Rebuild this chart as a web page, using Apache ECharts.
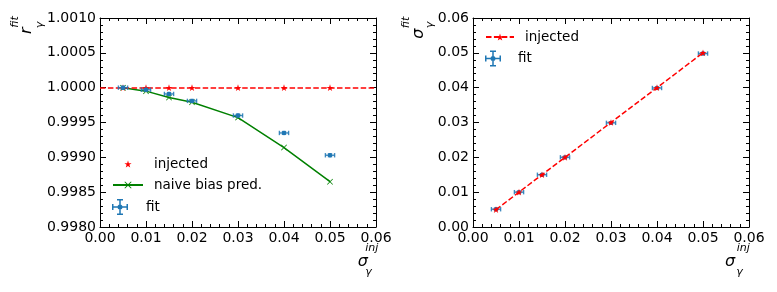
<!DOCTYPE html>
<html>
<head>
<meta charset="utf-8">
<script src="https://cdn.jsdelivr.net/npm/echarts@6/dist/echarts.min.js"></script>
<style>html,body{margin:0;padding:0;background:#fff;}#c{width:777px;height:292px;}</style>
</head>
<body>
<div id="c"></div>
<script>
// ---------------- data ----------------
const sigmaInj = [0.005, 0.01, 0.015, 0.02, 0.03, 0.04, 0.05];
// left panel: r_gamma
const rInjected = [1.0, 1.0, 1.0, 1.0, 1.0, 1.0, 1.0];
const rNaive = [1.00000, 0.99995, 0.99986, 0.99979, 0.99957, 0.99914, 0.99865];
const rFit = [1.00000, 0.99997, 0.99991, 0.99981, 0.99960, 0.99935, 0.99903];
const rFitErrX = [0.001, 0.001, 0.001, 0.001, 0.001, 0.001, 0.001];
const rFitErrY = [0.00002, 0.00002, 0.00002, 0.00002, 0.00002, 0.00002, 0.00002];
const rReference = 1.0;
// right panel: sigma_gamma
const sigmaInjected = [0.005, 0.01, 0.015, 0.02, 0.03, 0.04, 0.05];
const sigmaFit = [0.0051, 0.0100, 0.0150, 0.0200, 0.0299, 0.0399, 0.0498];
const sigmaFitErrX = [0.001, 0.001, 0.001, 0.001, 0.001, 0.001, 0.001];
const sigmaFitErrY = [0.0003, 0.0003, 0.0003, 0.0003, 0.0003, 0.0003, 0.0003];
// axis ranges [min, max, interval]
const xRange = [0.0, 0.06, 0.01];
const rRange = [0.998, 1.001, 0.0005];
const sRange = [0.0, 0.06, 0.01];
const legendLabels = {inj: 'injected', naive: 'naive bias pred.', fit: 'fit'};

// ---------------- styling helpers ----------------
const FONT = '"DejaVu Sans", sans-serif';
const BLUE = '#1f77b4', RED = '#ff0000', GREEN = '#008000';

function starPath() {
  let p = '';
  for (let i = 0; i < 10; i++) {
    const r = i % 2 ? 0.382 : 1;
    const a = -Math.PI / 2 + i * Math.PI / 5;
    p += (i ? 'L' : 'M') + (50 + 50 * r * Math.cos(a)).toFixed(2) + ',' + (50 + 50 * r * Math.sin(a)).toFixed(2);
  }
  return 'path://' + p + 'Z';
}
const STAR = starPath();
const XMARK = 'path://M0,1.4L1.4,0L8,6.6L14.6,0L16,1.4L9.4,8L16,14.6L14.6,16L8,9.4L1.4,16L0,14.6L6.6,8Z';
const ERRICON = 'path://M1,14.5H31V17.5H1Z M14.5,1H17.5V31H14.5Z M0,10H3V22H0Z M29,10H32V22H29Z M10,0H22V3H10Z M10,29H22V32H10Z M11,16A5,5 0 1,1 21,16A5,5 0 1,1 11,16Z';

function axisCommon(range, pos, labels, fmt) {
  return {
    type: 'value', position: pos, min: range[0], max: range[1], interval: range[2],
    axisLine: {show: true, onZero: false, lineStyle: {color: '#000', width: 1}},
    axisTick: {show: true, inside: true, length: 6, lineStyle: {color: '#000', width: 1}},
    minorTick: {show: true, splitNumber: 5, length: 3, lineStyle: {color: '#000', width: 1}},
    splitLine: {show: false},
    axisLabel: {show: labels, color: '#000', fontFamily: FONT, fontSize: 14, margin: 4,
      formatter: v => v.toFixed(fmt)},
  };
}

function errRender(params, api) {
  const x = api.value(0), y = api.value(1), xe = api.value(2), ye = api.value(3);
  const c = api.coord([x, y]);
  const l = api.coord([x - xe, y]), r = api.coord([x + xe, y]);
  const b = api.coord([x, y - ye]), t = api.coord([x, y + ye]);
  const cap = 2.2;
  const st = {stroke: BLUE, lineWidth: 1.4, opacity: 0.85};
  return {type: 'group', children: [
    {type: 'line', shape: {x1: l[0], y1: l[1], x2: r[0], y2: r[1]}, style: st},
    {type: 'line', shape: {x1: l[0], y1: l[1] - cap, x2: l[0], y2: l[1] + cap}, style: st},
    {type: 'line', shape: {x1: r[0], y1: r[1] - cap, x2: r[0], y2: r[1] + cap}, style: st},
    {type: 'line', shape: {x1: b[0], y1: b[1], x2: t[0], y2: t[1]}, style: st},
    {type: 'line', shape: {x1: b[0] - cap, y1: b[1], x2: b[0] + cap, y2: b[1]}, style: st},
    {type: 'line', shape: {x1: t[0] - cap, y1: t[1], x2: t[0] + cap, y2: t[1]}, style: st},
    {type: 'circle', shape: {cx: c[0], cy: c[1], r: 2.2}, style: {fill: BLUE}}
  ]};
}

function txt(text, x, y, size, rot) {
  return {type: 'text', x: x, y: y, rotation: rot ? Math.PI / 2 : 0, silent: true,
    style: {text: text, fontFamily: FONT, fontStyle: 'italic', fontSize: size, fill: '#000',
      align: 'center', verticalAlign: 'middle'}};
}

const pairs = (xs, ys) => xs.map((x, i) => [x, ys[i]]);
const quads = (xs, ys, ex, ey) => xs.map((x, i) => [x, ys[i], ex[i], ey[i]]);

const legendText = {color: '#000', fontFamily: FONT, fontSize: 13.5, padding: [0, 0, 0, 6]};
const fmtLegend = name => legendLabels[name.split('_')[0]];

const option = {
  animation: false,
  backgroundColor: '#fff',
  grid: [
    {left: 100, top: 18, width: 276, height: 209},
    {left: 473, top: 18, width: 276, height: 209}
  ],
  xAxis: [
    axisCommon(xRange, 'bottom', true, 2), axisCommon(xRange, 'top', false, 2),
    axisCommon(xRange, 'bottom', true, 2), axisCommon(xRange, 'top', false, 2)
  ].map((a, i) => Object.assign(a, {gridIndex: i < 2 ? 0 : 1})),
  yAxis: [
    axisCommon(rRange, 'left', true, 4), axisCommon(rRange, 'right', false, 4),
    axisCommon(sRange, 'left', true, 2), axisCommon(sRange, 'right', false, 2)
  ].map((a, i) => Object.assign(a, {gridIndex: i < 2 ? 0 : 1})),
  legend: [
    {orient: 'vertical', left: 112, top: 157, padding: 0, itemWidth: 30, itemHeight: 9, itemGap: 7,
      data: ['inj_L', 'naive_L'], formatter: fmtLegend, textStyle: legendText, selectedMode: false},
    {orient: 'vertical', left: 112, top: 199, padding: 0, itemWidth: 30, itemHeight: 16, itemGap: 7,
      data: [{name: 'fit_L', icon: ERRICON}], formatter: fmtLegend, textStyle: legendText, selectedMode: false},
    {orient: 'vertical', left: 485, top: 30, padding: 0, itemWidth: 28, itemHeight: 9, itemGap: 7,
      data: ['inj_R'], formatter: fmtLegend, textStyle: legendText, selectedMode: false},
    {orient: 'vertical', left: 485, top: 50.5, padding: 0, itemWidth: 28, itemHeight: 16, itemGap: 7,
      data: [{name: 'fit_R', icon: ERRICON}], formatter: fmtLegend, textStyle: legendText, selectedMode: false}
  ],
  series: [
    {name: 'inj_L', type: 'line', xAxisIndex: 0, yAxisIndex: 0, data: pairs(sigmaInj, rInjected),
      symbol: STAR, symbolSize: 7, symbolKeepAspect: true, itemStyle: {color: RED},
      lineStyle: {width: 0, opacity: 0, color: RED}, z: 3,
      markLine: {silent: true, symbol: 'none', label: {show: false},
        lineStyle: {color: RED, width: 1.5, type: [5.5, 2.4]}, data: [{yAxis: rReference}]}},
    {name: 'naive_L', type: 'line', xAxisIndex: 0, yAxisIndex: 0, data: pairs(sigmaInj, rNaive),
      symbol: XMARK, symbolSize: 6, itemStyle: {color: GREEN}, lineStyle: {color: GREEN, width: 1.5}, z: 4},
    {name: 'fit_L', type: 'custom', xAxisIndex: 0, yAxisIndex: 0, data: quads(sigmaInj, rFit, rFitErrX, rFitErrY),
      renderItem: errRender, itemStyle: {color: BLUE}, z: 5},
    {name: 'inj_R', type: 'line', xAxisIndex: 2, yAxisIndex: 2, data: pairs(sigmaInj, sigmaInjected),
      symbol: STAR, symbolSize: 7, symbolKeepAspect: true, itemStyle: {color: RED},
      lineStyle: {color: RED, width: 1.5, type: [5.5, 2.4]}, z: 5},
    {name: 'fit_R', type: 'custom', xAxisIndex: 2, yAxisIndex: 2, data: quads(sigmaInj, sigmaFit, sigmaFitErrX, sigmaFitErrY),
      renderItem: errRender, itemStyle: {color: BLUE}, z: 4}
  ],
  graphic: [
    // left y label r_gamma^fit
    txt('r', 26.5, 30.7, 16, true), txt('fit', 15.5, 22, 11, true), txt('\u03b3', 39.7, 25, 11, true),
    // right y label sigma_gamma^fit
    txt('\u03c3', 419.3, 33.8, 16, true), txt('fit', 405.8, 22.5, 11, true), txt('\u03b3', 429.7, 25, 11, true),
    // left x label sigma_gamma^inj
    txt('\u03c3', 362.8, 262.3, 16, false), txt('inj', 371.7, 248, 11, false), txt('\u03b3', 368.5, 272, 11, false),
    // right x label
    txt('\u03c3', 730, 261.5, 16, false), txt('inj', 743.3, 248, 11, false), txt('\u03b3', 739.5, 272, 11, false)
  ]
};

const chart = echarts.init(document.getElementById('c'), null, {renderer: 'canvas'});
chart.setOption(option);
</script>
</body>
</html>
